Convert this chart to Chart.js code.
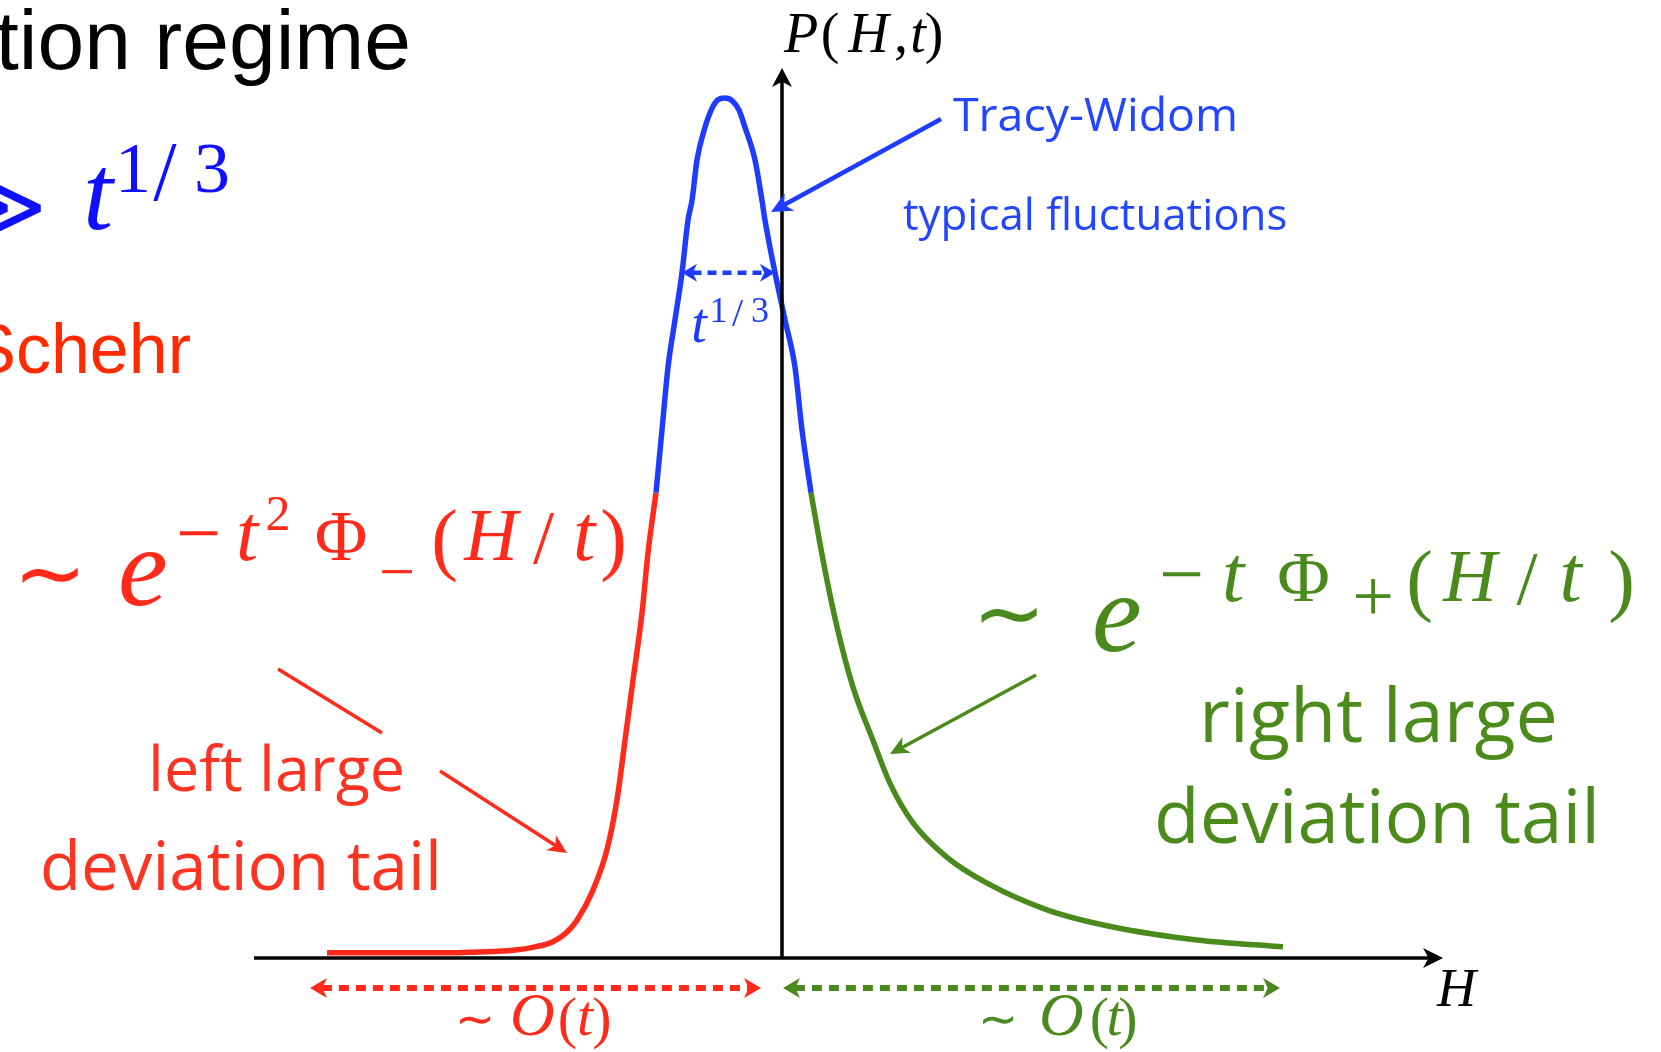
<!DOCTYPE html>
<html>
<head>
<meta charset="utf-8">
<script src="https://cdn.jsdelivr.net/npm/chart.js@4/dist/chart.umd.min.js"></script>
<style>
  html, body { margin: 0; padding: 0; background: #ffffff; overflow: hidden; }
  #wrap { width: 1661px; height: 1052px; position: relative; }
</style>
</head>
<body>
<div id="wrap"><canvas id="kpz" width="1661" height="1052"></canvas></div>
<script>
// Height distribution P(H,t) in the short-time regime, split into its three branches.
// H is in scaled units (0 at the vertical axis), P is normalised to the peak height.
const leftTailH = [-4.55, -4.02, -3.49, -3.02, -2.69, -2.47, -2.29, -2.16, -2.05, -1.89, -1.75, -1.65, -1.57, -1.49, -1.40, -1.34, -1.26];
const leftTailP = [0.006, 0.006, 0.006, 0.007, 0.009, 0.013, 0.019, 0.029, 0.044, 0.079, 0.126, 0.184, 0.253, 0.323, 0.401, 0.471, 0.541];

const centralH = [-1.26, -1.20, -1.14, -1.07, -1.00, -0.94, -0.90, -0.85, -0.77, -0.70, -0.64, -0.57, -0.50, -0.43, -0.37, -0.27, -0.20, -0.17, -0.07, 0.03, 0.13, 0.20, 0.29];
const centralP = [0.541, 0.614, 0.687, 0.742, 0.797, 0.858, 0.881, 0.928, 0.966, 0.988, 0.998, 1.000, 0.997, 0.986, 0.966, 0.928, 0.881, 0.858, 0.797, 0.742, 0.687, 0.614, 0.541];

const rightTailH = [0.29, 0.41, 0.55, 0.71, 0.91, 1.08, 1.31, 1.65, 2.05, 2.65, 3.31, 4.15, 5.01];
const rightTailP = [0.541, 0.463, 0.385, 0.315, 0.253, 0.203, 0.157, 0.117, 0.087, 0.056, 0.036, 0.021, 0.013];

// Axis extents (H and P)
const hRange = [-5.28, 6.61];
const pRange = [0, 1.035];

const RED = '#ff2a1a';
const BLUE = '#1e3cff';
const GREEN = '#4a8a1c';
const RED_TXT = '#ff3322';
const BLUE_TXT = '#2245ff';
const GREEN_TXT = '#4b8b1b';
const MATH_BLUE = '#1010ff';

const SERIF = '"Liberation Serif", "DejaVu Serif", serif';
const SANS = '"Liberation Sans", Arial, sans-serif';
const HUMANIST = '"Open Sans", "Noto Sans", sans-serif';
const SYM = '"DejaVu Sans", "DejaVu Serif", sans-serif';

const toPoints = (hs, ps) => hs.map((h, i) => ({ x: h, y: ps[i] }));

function put(ctx, text, x, y, font, color, align) {
  ctx.font = font;
  ctx.fillStyle = color;
  ctx.textAlign = align || 'left';
  ctx.textBaseline = 'alphabetic';
  ctx.fillText(text, x, y);
}

// glyph centred in the horizontal slot x0..x1
function glyph(ctx, text, x0, x1, y, font, color) {
  put(ctx, text, (x0 + x1) / 2, y, font, color, 'center');
}

// Sans label sized so its width spans x0..x1
function fitLabel(ctx, text, x0, x1, y, color) {
  ctx.font = `100px ${HUMANIST}`;
  const w = ctx.measureText(text).width;
  const size = 100 * (x1 - x0) / w;
  put(ctx, text, x0, y, `${size.toFixed(1)}px ${HUMANIST}`, color, 'left');
}

// Stealth-style arrow head with its tip at (x, y), pointing along angle a
function head(ctx, x, y, a, len, half, color) {
  const c = Math.cos(a), s = Math.sin(a);
  const bx = x - c * len, by = y - s * len;
  const nx = x - c * len * 0.72, ny = y - s * len * 0.72;
  ctx.save();
  ctx.fillStyle = color;
  ctx.beginPath();
  ctx.moveTo(x, y);
  ctx.lineTo(bx - s * half, by + c * half);
  ctx.lineTo(nx, ny);
  ctx.lineTo(bx + s * half, by - c * half);
  ctx.closePath();
  ctx.fill();
  ctx.restore();
}

function line(ctx, x0, y0, x1, y1, w, color, dash) {
  ctx.save();
  ctx.strokeStyle = color;
  ctx.lineWidth = w;
  ctx.lineCap = 'butt';
  ctx.setLineDash(dash || []);
  ctx.beginPath();
  ctx.moveTo(x0, y0);
  ctx.lineTo(x1, y1);
  ctx.stroke();
  ctx.restore();
}

function arrow(ctx, x0, y0, x1, y1, w, color, len, half) {
  const a = Math.atan2(y1 - y0, x1 - x0);
  line(ctx, x0, y0, x1 - Math.cos(a) * len * 0.7, y1 - Math.sin(a) * len * 0.7, w, color);
  head(ctx, x1, y1, a, len, half, color);
}

function dashedSpan(ctx, x0, x1, y, w, color, dash, len, half) {
  line(ctx, x0 + len * 0.7, y, x1 - len * 0.7, y, w, color, dash);
  head(ctx, x0, y, Math.PI, len, half, color);
  head(ctx, x1, y, 0, len, half, color);
}

// Axes with arrow heads, drawn through the chart's own scales
const axesPlugin = {
  id: 'arrowAxes',
  afterDatasetsDraw(chart) {
    const { ctx, chartArea, scales } = chart;
    const x0 = scales.x.getPixelForValue(0);
    const y0 = scales.y.getPixelForValue(0);
    const yTop = scales.y.getPixelForValue(pRange[1]);
    ctx.save();
    line(ctx, chartArea.left, y0, chartArea.right - 12, y0, 3.5, '#000');
    head(ctx, chartArea.right, y0, 0, 20, 10, '#000');
    line(ctx, x0, y0, x0, yTop + 12, 3.5, '#000');
    head(ctx, x0, yTop, -Math.PI / 2, 19, 10, '#000');
    ctx.restore();
  }
};

// Annotations: titles, formulas, labels and pointers
const notesPlugin = {
  id: 'notes',
  afterDraw(chart) {
    const { ctx, scales } = chart;
    ctx.save();

    // heading fragments
    put(ctx, 'tion regime', 411, 69, `84px ${SANS}`, '#000', 'right');
    put(ctx, 'Schehr', 191, 373, `70px ${SANS}`, '#ff2a00', 'right');
    put(ctx, '\u226B', 47, 236, `88px ${SYM}`, MATH_BLUE, 'right');
    glyph(ctx, 't', 78, 118, 229, `italic 108px ${SERIF}`, MATH_BLUE);
    glyph(ctx, '1', 120, 146, 192, `72px ${SERIF}`, MATH_BLUE);
    glyph(ctx, '/', 150, 180, 200, `84px ${SERIF}`, MATH_BLUE);
    glyph(ctx, '3', 193, 231, 192, `72px ${SERIF}`, MATH_BLUE);

    // axis labels
    glyph(ctx, 'P', 781, 821, 52, `italic 56px ${SERIF}`, '#000');
    glyph(ctx, '(', 823, 837, 52, `56px ${SERIF}`, '#000');
    glyph(ctx, 'H', 842, 895, 52, `italic 56px ${SERIF}`, '#000');
    glyph(ctx, ',', 897, 905, 52, `56px ${SERIF}`, '#000');
    glyph(ctx, 't', 910, 926, 52, `italic 56px ${SERIF}`, '#000');
    glyph(ctx, ')', 927, 941, 52, `56px ${SERIF}`, '#000');
    put(ctx, 'H', 1437, 1006, `italic 54px ${SERIF}`, '#000');

    // Tracy-Widom pointer and labels
    arrow(ctx, 941, 119, 771, 212, 4.5, BLUE, 21, 10);
    fitLabel(ctx, 'Tracy-Widom', 953, 1238, 131, BLUE_TXT);
    fitLabel(ctx, 'typical fluctuations', 903, 1287, 230, BLUE_TXT);

    // t^{1/3} width of the peak, measured at the P level of the span
    const spanY = scales.y.getPixelForValue(0.797);
    const spanL = scales.x.getPixelForValue(-1.00);
    const spanR = scales.x.getPixelForValue(-0.07);
    dashedSpan(ctx, spanL, spanR, spanY, 4.5, BLUE, [9, 6], 15, 9);
    glyph(ctx, 't', 690, 708, 342, `italic 56px ${SERIF}`, BLUE);
    glyph(ctx, '1', 711, 726, 322, `36px ${SERIF}`, BLUE);
    glyph(ctx, '/', 729, 746, 326, `40px ${SERIF}`, BLUE);
    glyph(ctx, '3', 750, 770, 322, `36px ${SERIF}`, BLUE);

    // left tail formula
    put(ctx, '\u223C', 50, 603, `88px ${SYM}`, RED, 'center');
    put(ctx, 'e', 118, 605, `italic 112px ${SERIF}`, RED);
    glyph(ctx, '\u2212', 175, 222, 560, `80px ${SERIF}`, RED);
    glyph(ctx, 't', 231, 263, 560, `italic 80px ${SERIF}`, RED);
    glyph(ctx, '2', 265, 291, 530, `50px ${SERIF}`, RED);
    glyph(ctx, '\u03A6', 316, 366, 560, `72px ${SERIF}`, RED);
    glyph(ctx, '\u2212', 378, 416, 593, `64px ${SERIF}`, RED);
    glyph(ctx, '(', 434, 455, 565, `80px ${SERIF}`, RED);
    glyph(ctx, 'H', 462, 520, 560, `italic 74px ${SERIF}`, RED);
    glyph(ctx, '/', 530, 557, 563, `76px ${SERIF}`, RED);
    glyph(ctx, 't', 570, 598, 560, `italic 80px ${SERIF}`, RED);
    glyph(ctx, ')', 603, 624, 565, `80px ${SERIF}`, RED);

    // left tail pointer and label
    line(ctx, 278, 669, 382, 733, 3.5, RED);
    arrow(ctx, 440, 771, 567, 853, 3.5, RED, 19, 9);
    fitLabel(ctx, 'left large', 148, 405, 791, RED_TXT);
    fitLabel(ctx, 'deviation tail', 40, 442, 890, RED_TXT);

    // right tail formula
    put(ctx, '\u223C', 1009, 643, `88px ${SYM}`, GREEN, 'center');
    put(ctx, 'e', 1092, 651, `italic 112px ${SERIF}`, GREEN);
    glyph(ctx, '\u2212', 1155, 1208, 601, `80px ${SERIF}`, GREEN);
    glyph(ctx, 't', 1216, 1250, 601, `italic 80px ${SERIF}`, GREEN);
    glyph(ctx, '\u03A6', 1276, 1331, 601, `72px ${SERIF}`, GREEN);
    glyph(ctx, '+', 1350, 1396, 621, `74px ${SERIF}`, GREEN);
    glyph(ctx, '(', 1409, 1430, 606, `80px ${SERIF}`, GREEN);
    glyph(ctx, 'H', 1440, 1500, 601, `italic 74px ${SERIF}`, GREEN);
    glyph(ctx, '/', 1513, 1541, 604, `76px ${SERIF}`, GREEN);
    glyph(ctx, 't', 1552, 1589, 601, `italic 80px ${SERIF}`, GREEN);
    glyph(ctx, ')', 1606, 1637, 606, `80px ${SERIF}`, GREEN);

    // right tail pointer and label
    arrow(ctx, 1036, 675, 890, 754, 3.5, GREEN, 19, 9);
    fitLabel(ctx, 'right large', 1199, 1558, 742, GREEN_TXT);
    fitLabel(ctx, 'deviation tail', 1154, 1600, 843, GREEN_TXT);

    // O(t) extents of the two tails
    dashedSpan(ctx, 310, 761, 988, 6, RED, [10, 7], 17, 10);
    dashedSpan(ctx, 783, 1280, 988, 6, GREEN, [10, 7], 17, 10);
    glyph(ctx, '\u223C', 458, 492, 1035, `48px ${SYM}`, RED);
    glyph(ctx, 'O', 504, 561, 1035, `italic 62px ${SERIF}`, RED);
    glyph(ctx, '(', 561, 574, 1037, `58px ${SERIF}`, RED);
    glyph(ctx, 't', 576, 594, 1035, `italic 58px ${SERIF}`, RED);
    glyph(ctx, ')', 595, 609, 1037, `58px ${SERIF}`, RED);
    glyph(ctx, '\u223C', 982, 1014, 1035, `48px ${SYM}`, GREEN);
    glyph(ctx, 'O', 1032, 1091, 1035, `italic 62px ${SERIF}`, GREEN);
    glyph(ctx, '(', 1093, 1106, 1037, `58px ${SERIF}`, GREEN);
    glyph(ctx, 't', 1107, 1122, 1035, `italic 58px ${SERIF}`, GREEN);
    glyph(ctx, ')', 1121, 1135, 1037, `58px ${SERIF}`, GREEN);

    ctx.restore();
  }
};

const branch = (hs, ps, color) => ({
  data: toPoints(hs, ps),
  borderColor: color,
  borderWidth: 5.5,
  pointRadius: 0,
  fill: false,
  cubicInterpolationMode: 'monotone',
  clip: false
});

new Chart(document.getElementById('kpz'), {
  type: 'line',
  data: {
    datasets: [
      branch(leftTailH, leftTailP, RED),
      branch(rightTailH, rightTailP, GREEN),
      branch(centralH, centralP, BLUE)
    ]
  },
  options: {
    responsive: false,
    animation: false,
    devicePixelRatio: 1,
    layout: { padding: { left: 254, right: 218, top: 68, bottom: 94 } },
    plugins: { legend: { display: false }, tooltip: { enabled: false } },
    scales: {
      x: { type: 'linear', min: hRange[0], max: hRange[1], display: false },
      y: { type: 'linear', min: pRange[0], max: pRange[1], display: false }
    }
  },
  plugins: [axesPlugin, notesPlugin]
});
</script>
</body>
</html>
